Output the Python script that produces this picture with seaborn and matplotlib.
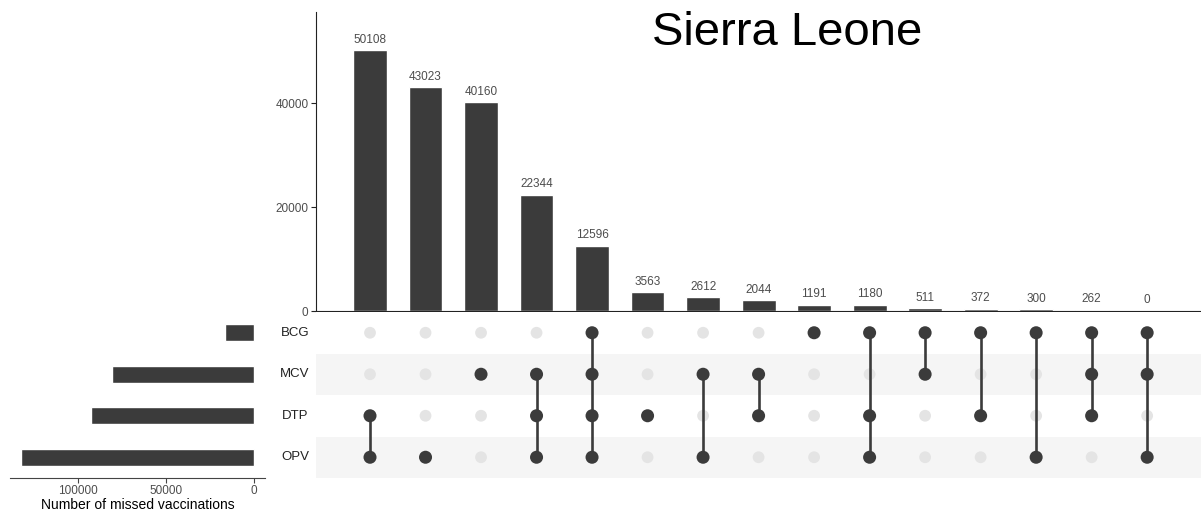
import matplotlib
matplotlib.use("Agg")
import matplotlib.pyplot as plt
import matplotlib.transforms as mtransforms
import numpy as np
import pandas as pd
import seaborn as sns

# ---------------- data ----------------
sets = ["BCG", "MCV", "DTP", "OPV"]
intersections = [
    "DTP&OPV", "OPV", "MCV", "MCV&DTP&OPV", "BCG&MCV&DTP&OPV", "DTP",
    "MCV&OPV", "MCV&DTP", "BCG", "BCG&DTP&OPV", "BCG&MCV", "BCG&DTP",
    "BCG&OPV", "BCG&MCV&DTP", "BCG&MCV&OPV",
]
counts = [50108, 43023, 40160, 22344, 12596, 3563, 2612, 2044, 1191, 1180,
          511, 372, 300, 262, 0]
title = "Sierra Leone"
xlabel_left = "Number of missed vaccinations"
left_ticks = [100000, 50000, 0]
top_ticks = [0, 20000, 40000]

# set sizes derived from intersections
set_sizes = [sum(c for m, c in zip(intersections, counts) if s in m.split("&"))
             for s in sets]

# ---------------- style ----------------
sns.set_theme(style="white")
plt.rcParams["font.family"] = ["Liberation Sans", "DejaVu Sans"]
DARK = "#3b3b3b"
LIGHT = "#e4e4e4"
BAND = "#f5f5f5"
TICKC = "#4d4d4d"

W, H = 1201, 516
fig = plt.figure(figsize=(W / 100, H / 100), dpi=100)

def rect(x0, y0, x1, y1):
    return [x0 / W, 1 - y1 / H, (x1 - x0) / W, (y1 - y0) / H]

ax_top = fig.add_axes(rect(316, 12, 1201, 311))
ax_mat = fig.add_axes(rect(316, 312, 1201, 478))
ax_left = fig.add_axes(rect(10, 312, 265, 478))

n = len(intersections)
xlim = (-0.973, 14.97)

# ---------------- top bars ----------------
df_top = pd.DataFrame({"inter": intersections, "count": counts})
sns.barplot(data=df_top, x="inter", y="count", order=intersections,
            color=DARK, saturation=1, width=0.61, ax=ax_top)
for i, c in enumerate(counts):
    ax_top.annotate(f"{c}", (i, c), xytext=(0, 5.5), textcoords="offset points",
                    ha="center", va="baseline", fontsize=8.5, color=TICKC)
ax_top.set_xlim(*xlim)
ax_top.set_ylim(0, 57500)
ax_top.set_yticks(top_ticks)
ax_top.set_yticklabels([str(t) for t in top_ticks], fontsize=8.5, color=TICKC)
ax_top.set_xticks([])
ax_top.set_xlabel("")
ax_top.set_ylabel("")
for s in ["top", "right"]:
    ax_top.spines[s].set_visible(False)
ax_top.spines["left"].set_color("#222222")
ax_top.spines["bottom"].set_color("#222222")
ax_top.spines["left"].set_linewidth(0.8)
ax_top.spines["bottom"].set_linewidth(0.8)
ax_top.tick_params(axis="y", left=True, length=3.5, width=0.8, color="#222222", pad=2)

fig.text(787 / W, 1 - 45 / H, title, ha="center", va="baseline", fontsize=34,
         color="black")

# ---------------- matrix ----------------
row_y = {s: len(sets) - 1 - k for k, s in enumerate(sets)}  # BCG top
recs = []
for i, m in enumerate(intersections):
    members = m.split("&")
    for s in sets:
        recs.append({"x": i, "y": row_y[s], "member": s in members})
df_m = pd.DataFrame(recs)

for s in ["MCV", "OPV"]:
    ax_mat.axhspan(row_y[s] - 0.5, row_y[s] + 0.5, color=BAND, lw=0, zorder=0)

sns.scatterplot(data=df_m[~df_m["member"]], x="x", y="y", s=72, color=LIGHT,
                edgecolor="none", linewidth=0, ax=ax_mat, zorder=2)
for i, m in enumerate(intersections):
    ys = [row_y[s] for s in m.split("&")]
    if len(ys) > 1:
        ax_mat.plot([i, i], [min(ys), max(ys)], color=DARK, lw=1.9, zorder=3,
                    solid_capstyle="butt")
sns.scatterplot(data=df_m[df_m["member"]], x="x", y="y", s=88, color=DARK,
                edgecolor="none", linewidth=0, ax=ax_mat, zorder=4)
ax_mat.set_xlim(*xlim)
ax_mat.set_ylim(-0.5, len(sets) - 0.5)
ax_mat.set_xticks([])
ax_mat.set_yticks([])
ax_mat.set_xlabel("")
ax_mat.set_ylabel("")
for s in ax_mat.spines.values():
    s.set_visible(False)

trans = mtransforms.blended_transform_factory(fig.transFigure, ax_mat.transData)
for s in sets:
    ax_mat.text(295 / W, row_y[s], s, transform=trans, ha="center", va="center",
                fontsize=9.5, color="#222222")

# ---------------- left bars ----------------
df_left = pd.DataFrame({"set": sets, "size": set_sizes})
sns.barplot(data=df_left, y="set", x="size", order=sets, orient="h",
            color=DARK, saturation=1, width=0.42, ax=ax_left)
ax_left.set_xlim(138636, -6250)
ax_left.set_ylim(len(sets) - 0.5, -0.5)
ax_left.set_xticks(left_ticks)
ax_left.set_xticklabels([str(t) for t in left_ticks], fontsize=8.5, color=TICKC)
ax_left.set_yticks([])
ax_left.set_ylabel("")
ax_left.set_xlabel(xlabel_left, fontsize=10, color="black", labelpad=1)
for s in ["top", "right", "left"]:
    ax_left.spines[s].set_visible(False)
ax_left.spines["bottom"].set_color("#444444")
ax_left.spines["bottom"].set_linewidth(0.8)
ax_left.tick_params(axis="x", bottom=True, length=3.5, width=0.8, color="#444444", pad=1.5)

fig.savefig("out.png", dpi=100, facecolor="white")
